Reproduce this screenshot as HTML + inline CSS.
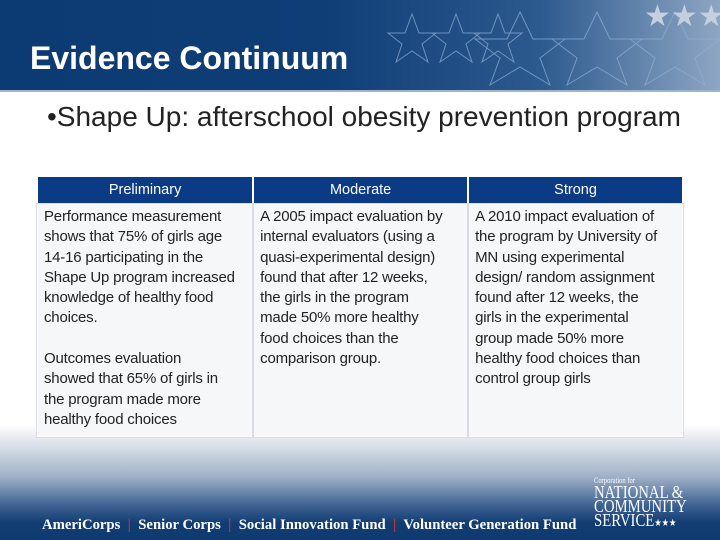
<!DOCTYPE html>
<html><head><meta charset="utf-8"><style>
body{margin:0;width:720px;height:540px;overflow:hidden;font-family:"Liberation Sans",sans-serif;background:#fff;position:relative}
.hdr{position:absolute;left:0;top:0;width:720px;height:90px;background:linear-gradient(90deg,#0c3a72 0%,#0f3d76 45%,#2c5a8e 75%,#8ea6c3 100%)}
.hdrline{position:absolute;left:0;top:90px;width:720px;height:2px;background:#9fb4cf}
.title{position:absolute;left:30px;top:40px;color:#fff;font-size:32px;font-weight:bold}
.bullet{position:absolute;left:47px;top:101px;font-size:28px;color:#222}
.foot{position:absolute;left:0;top:425px;width:720px;height:115px;background:linear-gradient(180deg,#fff 0%,#dfe5ec 15%,#9fb0c6 45%,#3d6292 70%,#123d72 85%,#0e3a6f 100%)}
table{position:absolute;left:36px;top:175px;width:648px;border-collapse:collapse;font-family:"Liberation Sans",sans-serif;font-size:15px;white-space:nowrap}
th{background:#0b3b85;color:#fff;font-weight:normal;height:26px;border:2px solid #fff;font-size:14.5px;padding:0}
td{vertical-align:top;padding:2px 6px 4px 6px;height:225px;border:2px solid #fff;background:#f6f7f9;outline:1px solid #d8dce4;color:#222;line-height:20.3px;width:204px;letter-spacing:-0.2px}
.ft{position:absolute;top:517px;color:#fff;font-family:"Liberation Serif",serif;font-size:14.7px;font-weight:bold}
</style></head><body>
<div class="hdr">
<svg width="720" height="90" style="position:absolute;left:0;top:0">
<g fill="none" stroke="#8fb0d8" stroke-width="1" opacity="0.7">
<polygon points="412,14 419,33 436,33 422,44 428,62 412,51 396,62 402,44 388,33 405,33"/>
<polygon points="456,14 463,33 480,33 466,44 472,62 456,51 440,62 446,44 432,33 449,33"/>
<polygon points="498,14 505,33 522,33 508,44 514,62 498,51 482,62 488,44 474,33 491,33"/>
<polygon points="520,12 533,39 565,39 540,58 550,85 520,67 490,85 500,58 475,39 507,39"/>
<polygon points="597,12 610,39 642,39 617,58 627,85 597,67 567,85 577,58 552,39 584,39"/>
<polygon points="675,12 688,39 720,39 695,58 705,85 675,67 645,85 655,58 630,39 662,39"/>
</g>
<g fill="#c4d0de"><text x="644" y="26" font-size="30">★★★</text></g>
</svg></div>
<div class="hdrline"></div>
<div class="title">Evidence Continuum</div>
<div class="bullet">•Shape Up: afterschool obesity prevention program</div>
<div class="foot"></div>
<table>
<tr><th>Preliminary</th><th>Moderate</th><th>Strong</th></tr>
<tr><td>Performance measurement<br>shows that 75% of girls age<br>14-16 participating in the<br>Shape Up program increased<br>knowledge of healthy food<br>choices.<br><br>Outcomes evaluation<br>showed that 65% of girls in<br>the program made more<br>healthy food choices</td>
<td>A 2005 impact evaluation by<br>internal evaluators (using a<br>quasi-experimental design)<br>found that after 12 weeks,<br>the girls in the program<br>made 50% more healthy<br>food choices than the<br>comparison group.</td>
<td>A 2010 impact evaluation of<br>the program by University of<br>MN using experimental<br>design/ random assignment<br>found after 12 weeks, the<br>girls in the experimental<br>group made 50% more<br>healthy food choices than<br>control group girls</td></tr>
</table>
<div class="ft" style="left:42px">AmeriCorps &nbsp;<span style="color:#c33">|</span>&nbsp; Senior Corps &nbsp;<span style="color:#c33">|</span>&nbsp; Social Innovation Fund &nbsp;<span style="color:#c33">|</span>&nbsp; Volunteer Generation Fund</div>
<div style="position:absolute;left:594px;top:476px;color:#fff;font-family:'Liberation Serif',serif;line-height:14px;font-size:18px;transform:scaleX(0.82);transform-origin:left top;white-space:nowrap"><div style="font-size:8px;line-height:9px">Corporation for</div>NATIONAL &amp;<br>COMMUNITY<br>SERVICE<span style="font-size:10px">★★★</span></div>
</body></html>
